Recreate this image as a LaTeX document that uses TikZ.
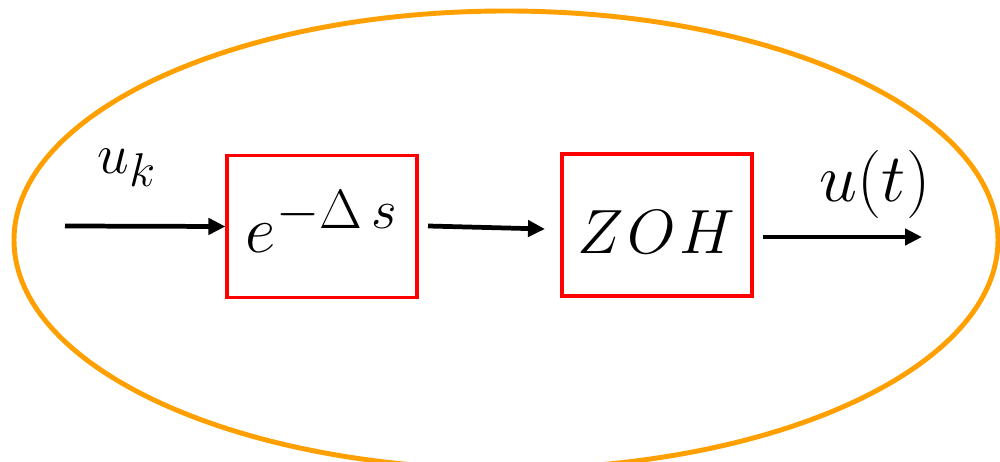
\documentclass[tikz,border=0pt]{standalone}
\usepackage{graphicx}
\usetikzlibrary{arrows.meta}
\definecolor{orng}{RGB}{255,160,0}
\begin{document}
\begin{tikzpicture}[x=0.02cm,y=-0.02cm,
  blk/.style={draw=red,line width=1.8pt,minimum width=3.8cm,minimum height=2.84cm,inner sep=0pt},
  conn/.style={line width=2.7pt,-{Triangle[length=0.34cm,width=0.32cm]}},
  lbl/.style={inner sep=0pt,font=\Huge}]
\useasboundingbox (0,0) rectangle (1000,462);
\draw[orng,line width=2.8pt] (506,240) ellipse [x radius=492, y radius=229];
\node[blk] (b1) at (322,226.5) {};
\node[blk] (b2) at (657,225) {};
\node[lbl] (t1) at (322,222) {\scalebox{1.52}{$e^{-\Delta\, s}$}};
\node[lbl] (t2) at (656,232) {\scalebox{1.43}{$Z\mkern1mu O\mkern1mu H$}};
\node[lbl] (uk) at (127,168) {\scalebox{1.3}{$u_k$}};
\node[lbl] (ut) at (875,184) {\scalebox{1.56}{$u(t)$}};
\coordinate (in) at (65,226);
\coordinate (m1) at (428,226);
\coordinate (m2) at (545,229);
\coordinate (o1) at (763,237);
\coordinate (o2) at (922,237);
\draw[conn] (in) -- (b1.west);
\draw[conn] (m1) -- (m2);
\draw[conn] (o1) -- (o2);
\end{tikzpicture}
\end{document}
